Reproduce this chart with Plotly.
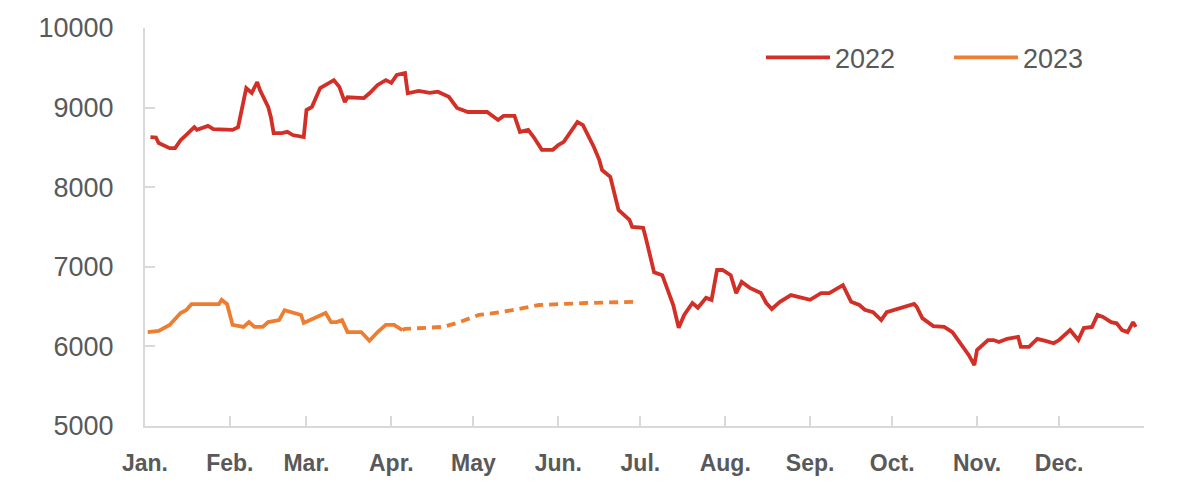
import plotly.graph_objects as go

# 2022 price path
dates_2022 = [
    "2022-01-03", "2022-01-05", "2022-01-06", "2022-01-10", "2022-01-12", "2022-01-14",
    "2022-01-16", "2022-01-19", "2022-01-20", "2022-01-24", "2022-01-26", "2022-02-02",
    "2022-02-04", "2022-02-07", "2022-02-09", "2022-02-11", "2022-02-12", "2022-02-15",
    "2022-02-16", "2022-02-17", "2022-02-20", "2022-02-22", "2022-02-24", "2022-02-28",
    "2022-03-01", "2022-03-03", "2022-03-06", "2022-03-08", "2022-03-11", "2022-03-13",
    "2022-03-15", "2022-03-16", "2022-03-22", "2022-03-24", "2022-03-27", "2022-03-30",
    "2022-04-01", "2022-04-03", "2022-04-06", "2022-04-07", "2022-04-11", "2022-04-15",
    "2022-04-18", "2022-04-22", "2022-04-25", "2022-04-29", "2022-05-06", "2022-05-10",
    "2022-05-12", "2022-05-16", "2022-05-18", "2022-05-21", "2022-05-23", "2022-05-26",
    "2022-05-30", "2022-06-01", "2022-06-03", "2022-06-08", "2022-06-10", "2022-06-14",
    "2022-06-16", "2022-06-17", "2022-06-20", "2022-06-23", "2022-06-27", "2022-06-28",
    "2022-07-02", "2022-07-03", "2022-07-06", "2022-07-09", "2022-07-11", "2022-07-13",
    "2022-07-15", "2022-07-17", "2022-07-20", "2022-07-22", "2022-07-25", "2022-07-27",
    "2022-07-29", "2022-07-31", "2022-08-03", "2022-08-05", "2022-08-07", "2022-08-10",
    "2022-08-14", "2022-08-16", "2022-08-18", "2022-08-21", "2022-08-25", "2022-08-29",
    "2022-09-01", "2022-09-05", "2022-09-08", "2022-09-13", "2022-09-16", "2022-09-19",
    "2022-09-21", "2022-09-24", "2022-09-27", "2022-09-29", "2022-10-04", "2022-10-09",
    "2022-10-10", "2022-10-12", "2022-10-16", "2022-10-20", "2022-10-23", "2022-10-26",
    "2022-10-29", "2022-10-31", "2022-11-01", "2022-11-05", "2022-11-07", "2022-11-09",
    "2022-11-12", "2022-11-16", "2022-11-17", "2022-11-20", "2022-11-23", "2022-11-26",
    "2022-11-29", "2022-12-01", "2022-12-05", "2022-12-08", "2022-12-10", "2022-12-13",
    "2022-12-15", "2022-12-17", "2022-12-20", "2022-12-22", "2022-12-24", "2022-12-26",
    "2022-12-28", "2022-12-29",
]
values_2022 = [
    8630, 8625, 8555, 8490, 8490, 8590,
    8655, 8755, 8720, 8770, 8730, 8720,
    8755, 9245, 9185, 9320, 9220, 9010,
    8880, 8680, 8680, 8695, 8655, 8630,
    8970, 9010, 9245, 9285, 9345, 9260,
    9070, 9130, 9120, 9180, 9285, 9345,
    9310, 9410, 9435, 9180, 9210, 9185,
    9200, 9135, 8995, 8945, 8945, 8845,
    8895, 8895, 8695, 8720, 8630, 8470,
    8470, 8530, 8570, 8820, 8780, 8505,
    8340, 8215, 8130, 7715, 7590, 7500,
    7490, 7360, 6930, 6895, 6710, 6520,
    6235, 6395, 6545, 6485, 6610, 6585,
    6960, 6960, 6895, 6670, 6810, 6735,
    6670, 6545, 6470, 6560, 6645, 6610,
    6585, 6670, 6670, 6770, 6560, 6520,
    6460, 6430, 6330, 6430, 6485, 6535,
    6495, 6355, 6255, 6245, 6180, 6040,
    5890, 5765, 5955, 6080, 6080, 6055,
    6095, 6120, 5995, 5995, 6095, 6070,
    6040, 6080, 6205, 6080, 6230, 6245,
    6395, 6370, 6305, 6290, 6205, 6180,
    6305, 6245,
]

# 2023 actual (solid), plotted on the same month-of-year axis
dates_2023 = [
    "2022-01-02", "2022-01-06", "2022-01-10", "2022-01-14", "2022-01-16", "2022-01-18",
    "2022-01-28", "2022-01-29", "2022-01-31", "2022-02-02", "2022-02-06", "2022-02-08",
    "2022-02-10", "2022-02-13", "2022-02-15", "2022-02-19", "2022-02-21", "2022-02-24",
    "2022-02-27", "2022-02-28", "2022-03-04", "2022-03-08", "2022-03-10", "2022-03-12",
    "2022-03-14", "2022-03-16", "2022-03-21", "2022-03-24", "2022-03-27", "2022-03-30",
    "2022-04-02", "2022-04-05",
]
values_2023 = [
    6180, 6195, 6270, 6420, 6455, 6530,
    6530, 6585, 6530, 6270, 6245, 6305,
    6245, 6245, 6305, 6330, 6455, 6420,
    6395, 6295, 6355, 6420, 6305, 6305,
    6330, 6180, 6180, 6070, 6180, 6270,
    6270, 6205,
]

# 2023 dashed continuation
dates_2023_dash = [
    "2022-04-05", "2022-04-06", "2022-04-20", "2022-04-25", "2022-05-03",
    "2022-05-11", "2022-05-19", "2022-05-25", "2022-06-11", "2022-06-29",
]
values_2023_dash = [6205, 6220, 6245, 6295, 6395, 6430, 6480, 6520, 6545, 6560]

month_ticks = [
    "2022-01-01", "2022-02-01", "2022-03-01", "2022-04-01", "2022-05-01", "2022-06-01",
    "2022-07-01", "2022-08-01", "2022-09-01", "2022-10-01", "2022-11-01", "2022-12-01",
    "2023-01-01",
]
month_labels = ["Jan.", "Feb.", "Mar.", "Apr.", "May", "Jun.", "Jul.",
                "Aug.", "Sep.", "Oct.", "Nov.", "Dec.", ""]

RED = "#D22F27"
ORANGE = "#ED7D31"
AXIS_GREY = "#D9D9D9"
TEXT_GREY = "#595959"

fig = go.Figure()
fig.add_trace(go.Scatter(x=dates_2022, y=values_2022, mode="lines", name="2022",
                         line=dict(color=RED, width=3.8)))
fig.add_trace(go.Scatter(x=dates_2023, y=values_2023, mode="lines", name="2023",
                         line=dict(color=ORANGE, width=3.8)))
fig.add_trace(go.Scatter(x=dates_2023_dash, y=values_2023_dash, mode="lines",
                         showlegend=False,
                         line=dict(color=ORANGE, width=3.8, dash="9px,6px")))

# page body has an 8px margin, so the figure is 16px smaller than the window
fig.update_layout(
    width=1184,
    height=476,
    margin=dict(l=137, r=48, t=20, b=58, autoexpand=False),
    plot_bgcolor="white",
    paper_bgcolor="white",
    showlegend=True,
    legend=dict(
        orientation="h",
        x=0.6166, y=0.925, xanchor="left", yanchor="middle",
        itemwidth=64,
        entrywidth=109,
        font=dict(family="Liberation Sans", size=27, color=TEXT_GREY),
        bgcolor="rgba(0,0,0,0)",
    ),
    xaxis=dict(
        type="date",
        range=["2022-01-01", "2023-01-01"],
        tickmode="array",
        tickvals=month_ticks,
        ticktext=month_labels,
        showgrid=False, automargin=False,
        showline=True, linecolor=AXIS_GREY, linewidth=2,
        ticks="inside", ticklen=10, tickcolor=AXIS_GREY, tickwidth=2,
        ticklabelstandoff=15,
        tickfont=dict(family="Liberation Sans", size=23, color=TEXT_GREY, weight="bold"),
    ),
    yaxis=dict(
        range=[5000, 10000],
        tickmode="linear", tick0=5000, dtick=1000,
        tickformat="d",
        showgrid=False, zeroline=False, automargin=False,
        showline=True, linecolor=AXIS_GREY, linewidth=2,
        ticks="inside", ticklen=10, tickcolor=AXIS_GREY, tickwidth=2,
        ticklabelstandoff=24,
        tickfont=dict(family="Liberation Sans", size=27, color=TEXT_GREY),
    ),
)

fig.write_html("out.html")
